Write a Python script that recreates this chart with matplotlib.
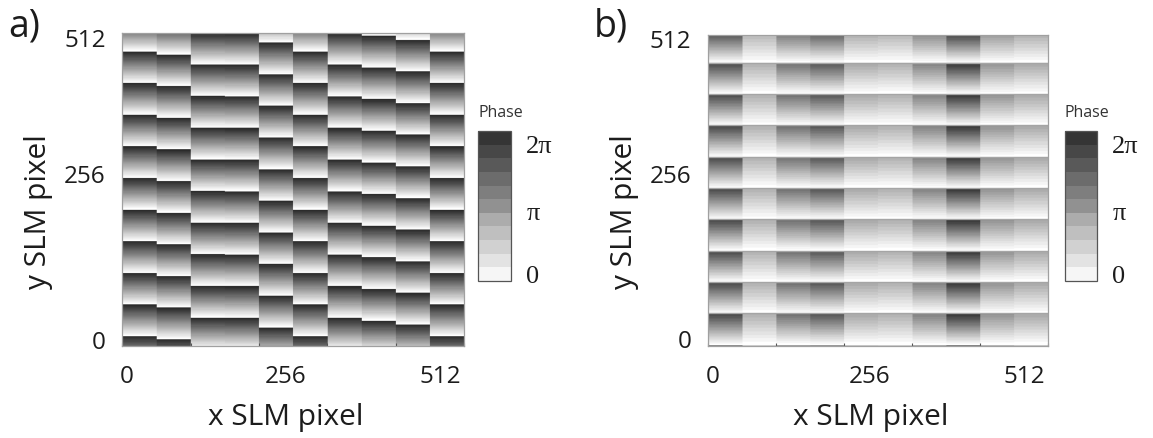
import numpy as np
import matplotlib
matplotlib.use("Agg")
import matplotlib.pyplot as plt
from matplotlib.colors import ListedColormap

# ---------------- data ----------------
n_pix = 512                      # SLM pixels per side
n_cols = 10                      # column blocks across x
period_a = 51.6                  # phase-wrap period along y (SLM px)
period_b = 51.6
# panel a: y position (SLM px) of the first phase wrap in each column
wrap_offset_a = [16, 11, 46.5, 46, 30.5, 16, 46, 41.5, 35, 16]
# panel b: common wrap offset and per-column max phase (fraction of 2pi)
wrap_offset_b = 1.4
amplitude_b = [0.86, 0.38, 0.68, 0.80, 0.42, 0.38, 0.60, 0.95, 0.52, 0.42]
n_levels_image = 24              # grey levels in the phase maps
n_levels_cbar = 11               # grey blocks shown in the colour bar

x_tick_pos = [6.6, 244, 475.6]
x_tick_labels = ["0", "256", "512"]
y_tick_pos = [12, 284, 506]
y_tick_labels = ["0", "256", "512"]
minor_x_ticks = [0, 102.4, 204.8, 307.2, 409.6, 512]
cbar_tick_frac = [0.053, 0.467, 0.915]
cbar_tick_labels = ["0", "π", "2π"]
panel_labels = ["a)", "b)"]

# ---------------- phase fields ----------------
y = np.arange(n_pix) + 0.5
col = (np.arange(n_pix) * n_cols) // n_pix
off_a = np.array(wrap_offset_a)[col]
phase_a = 2 * np.pi * (((y[:, None] - off_a[None, :]) / period_a) % 1.0)
amp_b = np.array(amplitude_b)[col]
phase_b = 2 * np.pi * amp_b[None, :] * (((y[:, None] - wrap_offset_b) / period_b) % 1.0)
wraps_b = wrap_offset_b + period_b * np.arange(1, int(n_pix / period_b) + 1)

greys = np.linspace(1.0, 0.17, n_levels_image)
cmap = ListedColormap([(g, g, g) for g in greys])

# ---------------- figure ----------------
W, H = 1153, 439
fig = plt.figure(figsize=(W / 100, H / 100), dpi=100)
txt = "#1c1c1c"
sans = "Open Sans"

def fx(px):
    return px / W

def fy(py):
    return 1 - py / H

panels = [
    dict(field=phase_a, ax=(122.3, 34, 464.3, 347.3), cb=(478, 132, 511, 282), dx=0, lines=[]),
    dict(field=phase_b, ax=(708, 35.5, 1048, 346.5), cb=(1065, 132, 1097, 282), dx=585.7, lines=wraps_b),
]

for i, p in enumerate(panels):
    x0, y0, x1, y1 = p["ax"]
    ax = fig.add_axes([fx(x0), fy(y1), fx(x1 - x0), (y1 - y0) / H])
    im = ax.imshow(p["field"], origin="lower", extent=[0, n_pix, 0, n_pix],
                   aspect="auto", cmap=cmap, vmin=0, vmax=2 * np.pi,
                   interpolation="antialiased")
    for yl in p["lines"]:
        if yl < n_pix:
            ax.axhline(yl, color="#a5a5a5", lw=1.0)
    for s in ax.spines.values():
        s.set_color("#a0a0a0")
        s.set_linewidth(0.9)
    ax.set_xticks(x_tick_pos)
    ax.set_xticklabels(x_tick_labels)
    ax.set_yticks(y_tick_pos)
    ax.set_yticklabels(y_tick_labels)
    ax.set_xticks(minor_x_ticks, minor=True)
    ax.tick_params(axis="both", which="major", length=0, labelsize=17.5,
                   labelcolor=txt)
    ax.tick_params(axis="x", which="major", pad=13)
    ax.tick_params(axis="y", which="major", pad=12)
    ax.tick_params(axis="x", which="minor", length=2.5, width=0.8,
                   direction="in", color="#555555")
    for lab in ax.get_xticklabels() + ax.get_yticklabels():
        lab.set_fontfamily(sans)
    ax.set_xlim(0, n_pix)
    ax.set_ylim(0, n_pix)

    dx = p["dx"]
    fig.text(fx(285.5 + dx), fy(425), "x SLM pixel", ha="center", va="baseline",
             fontsize=21.5, family=sans, color=txt)
    fig.text(fx(39 + dx), fy(211.7), "y SLM pixel", ha="center", va="center",
             rotation=90, fontsize=21.5, family=sans, color=txt)
    fig.text(fx(8 + dx), fy(36), panel_labels[i], ha="left", va="baseline",
             fontsize=27, family=sans, color=txt)

    c0, cy0, c1, cy1 = p["cb"]
    cax = fig.add_axes([fx(c0), fy(cy1), fx(c1 - c0), (cy1 - cy0) / H])
    cb = fig.colorbar(im, cax=cax,
                      boundaries=np.linspace(0, 2 * np.pi, n_levels_cbar + 1))
    cb.outline.set_edgecolor("#555555")
    cb.outline.set_linewidth(0.9)
    cb.set_ticks([f * 2 * np.pi for f in cbar_tick_frac])
    cb.set_ticklabels(cbar_tick_labels)
    cax.tick_params(length=0, pad=11, labelsize=19, labelcolor=txt)
    for lab in cax.get_yticklabels():
        lab.set_fontfamily("Liberation Serif")
    fig.text(fx(c0), fy(117), "Phase", ha="left", va="baseline",
             fontsize=11.5, family=sans, color="#333333")

fig.savefig("out.png", dpi=100)
